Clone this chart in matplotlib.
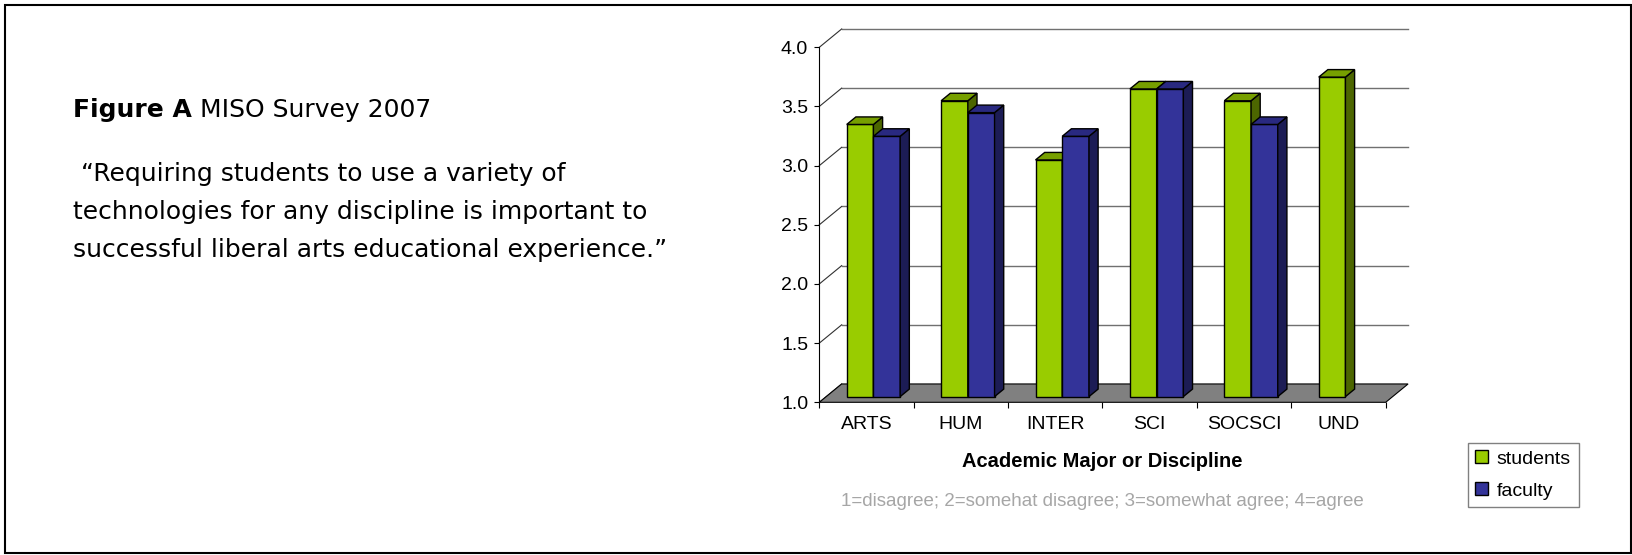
import matplotlib
matplotlib.use("Agg")
import matplotlib.pyplot as plt
import numpy as np
from matplotlib.patches import Polygon, Rectangle, Patch

# survey means by discipline (1=disagree ... 4=agree)
categories = ["ARTS", "HUM", "INTER", "SCI", "SOCSCI", "UND"]
students = [3.3, 3.5, 3.0, 3.6, 3.5, 3.7]
faculty = [3.2, 3.4, 3.2, 3.6, 3.3, np.nan]
y_ticks = [1.0, 1.5, 2.0, 2.5, 3.0, 3.5, 4.0]

W, H, DPI = 1633, 555, 100

GREEN = ("#99CC00", "#779F00", "#4C6600")   # front, top, side
BLUE = ("#333399", "#292980", "#1C1C55")
CHART_FONT = "Liberation Sans"
TEXT_FONT = "DejaVu Sans"

# pseudo-3D depth (data units): floor depth, bar plane offset, bar depth
FDX, FDY = 0.237, 0.155
BX, BY = 0.31 * FDX, 0.31 * FDY
DX, DY = 0.41 * FDX, 0.41 * FDY
BAR_W = 0.283


def px_x(x):
    return x / W


def px_y(y):
    return 1 - y / H


fig = plt.figure(figsize=(W / DPI, H / DPI), dpi=DPI)
ax = fig.add_axes([px_x(819.3), px_y(402.3),
                   (1385.7 - 819.3) / W, 355 / H])
ax.set_xlim(-0.5, len(categories) - 0.5)
ax.set_ylim(1, 4)
ax.patch.set_visible(False)

x0, x1 = -0.5, len(categories) - 0.5

# back wall gridlines and the left wall diagonals
for yv in y_ticks:
    if yv > 1.0:
        ax.plot([x0 + FDX, x1 + FDX], [yv + FDY, yv + FDY],
                color="#707070", lw=1.0, clip_on=False, zorder=1)
    ax.plot([x0, x0 + FDX], [yv, yv + FDY], color="#303030",
            lw=0.8, clip_on=False, zorder=1)

# floor
ax.add_patch(Polygon([(x0, 1), (x1, 1), (x1 + FDX, 1 + FDY), (x0 + FDX, 1 + FDY)],
                     closed=True, facecolor="#808080", edgecolor="black",
                     lw=0.8, clip_on=False, zorder=2))

z = 3
for i in range(len(categories)):
    for s, (vals, cols) in enumerate([(students, GREEN), (faculty, BLUE)]):
        v = vals[i]
        if np.isnan(v):
            continue
        xl = i - BAR_W + s * BAR_W + BX
        xr = xl + BAR_W
        yb, yt = 1 + BY, v + BY
        ax.bar(xl, v - 1, bottom=yb, width=BAR_W, align="edge",
               color=cols[0], edgecolor="black", lw=1.0,
               clip_on=False, zorder=z)
        ax.add_patch(Polygon([(xr, yb), (xr + DX, yb + DY), (xr + DX, yt + DY), (xr, yt)],
                             closed=True, facecolor=cols[2], edgecolor="black",
                             lw=1.0, clip_on=False, zorder=z))
        ax.add_patch(Polygon([(xl, yt), (xr, yt), (xr + DX, yt + DY), (xl + DX, yt + DY)],
                             closed=True, facecolor=cols[1], edgecolor="black",
                             lw=1.0, clip_on=False, zorder=z))
        z += 1

# axes, ticks and labels
for side in ["top", "right"]:
    ax.spines[side].set_visible(False)
ax.spines["left"].set_linewidth(0.8)
ax.spines["bottom"].set_visible(False)
ax.set_yticks(y_ticks)
ax.set_yticklabels([f"{t:.1f}" for t in y_ticks], fontsize=14, family=CHART_FONT)
ax.tick_params(axis="y", length=3.5, width=0.8, pad=4.5)

ax.set_xticks(np.arange(-0.5, len(categories), 1.0))
ax.set_xticklabels([])
ax.set_xticks(np.arange(len(categories)), minor=True)
ax.set_xticklabels(categories, minor=True, fontsize=14, family=CHART_FONT)
ax.tick_params(axis="x", which="major", length=4.5, width=0.8)
ax.tick_params(axis="x", which="minor", length=0, pad=10)

fig.text(px_x(1102), px_y(461.7), "Academic Major or Discipline",
         ha="center", va="center", fontsize=14.5, fontweight="bold",
         family=CHART_FONT)
fig.text(px_x(1102), px_y(502), "1=disagree; 2=somehat disagree; 3=somewhat agree; 4=agree",
         ha="center", va="center", fontsize=13.5, color="#A6A6A6", family=CHART_FONT)

handles = [Patch(facecolor=GREEN[0], edgecolor="black", lw=1.0),
           Patch(facecolor=BLUE[0], edgecolor="black", lw=1.0)]
leg = fig.legend(handles, ["students", "faculty"], loc="upper left",
                 bbox_to_anchor=(px_x(1467.7), px_y(442.7)), borderaxespad=0,
                 fancybox=False, edgecolor="#808080", framealpha=1,
                 prop={"family": CHART_FONT, "size": 14},
                 handlelength=0.65, handleheight=0.65, handletextpad=0.45,
                 borderpad=0.4, labelspacing=0.74)
leg.get_frame().set_linewidth(1.0)

# left-hand caption
t1 = fig.text(px_x(72.7), px_y(117.3), "Figure A", fontsize=18,
              fontweight="bold", family=TEXT_FONT, va="baseline")
fig.canvas.draw()
bb = t1.get_window_extent()
fig.text(bb.x1 / W, px_y(117.3), " MISO Survey 2007", fontsize=18,
         family=TEXT_FONT, va="baseline")

quote = [" \u201cRequiring students to use a variety of",
         "technologies for any discipline is important to",
         "successful liberal arts educational experience.\u201d"]
for k, line in enumerate(quote):
    fig.text(px_x(72.7), px_y(181 + 38 * k), line, fontsize=18,
             family=TEXT_FONT, va="baseline")

# outer frame
fig.add_artist(Rectangle((px_x(5), px_y(553)), (1631 - 5) / W, (553 - 5) / H,
                         transform=fig.transFigure, fill=False,
                         edgecolor="black", lw=1.5))

fig.savefig("out.png", dpi=DPI)
